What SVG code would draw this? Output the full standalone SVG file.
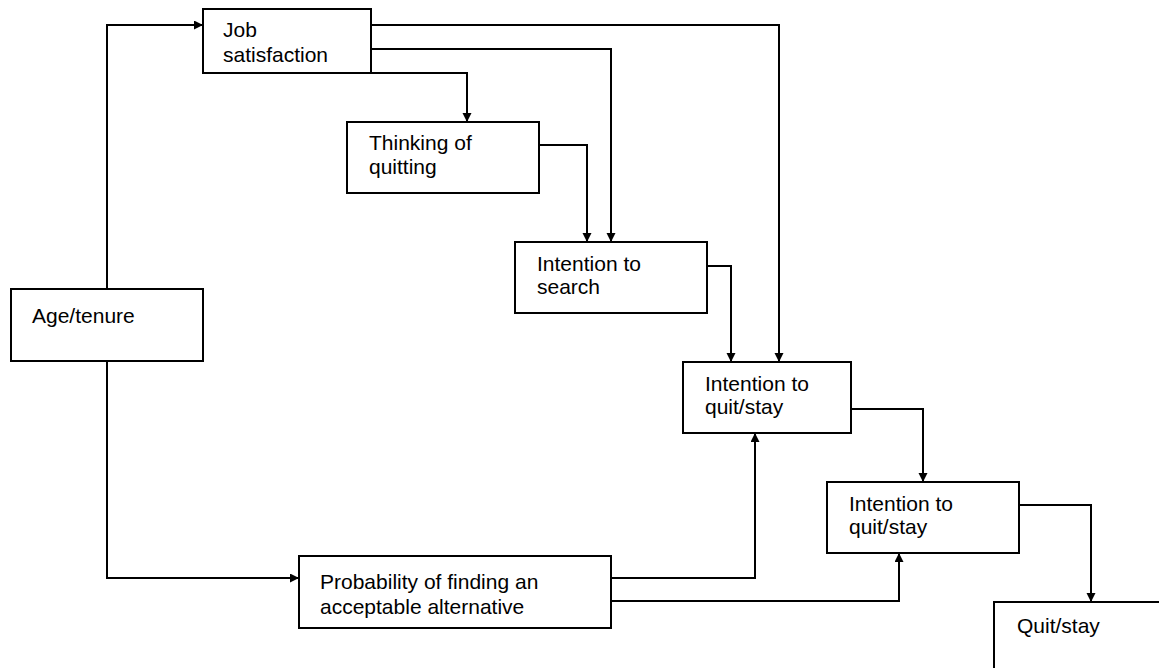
<svg xmlns="http://www.w3.org/2000/svg" width="1159" height="668" viewBox="0 0 1159 668">
<style>
.box{fill:#fff;stroke:#000;stroke-width:2}
.lbl{font-family:"Liberation Sans",Arial,sans-serif;font-size:21px;fill:#000}
.conn{fill:none;stroke:#000;stroke-width:2}
</style>
<defs>
<marker id="arr" markerUnits="userSpaceOnUse" markerWidth="10" markerHeight="10" refX="9" refY="4.5" orient="auto">
<path d="M0,0 L9,4.5 L0,9 z" fill="#000"/>
</marker>
</defs>
<rect width="1159" height="668" fill="#fff"/>
<g id="connectors">
<path class="conn" d="M107,289 V25 H203" marker-end="url(#arr)"/>
<path class="conn" d="M107,361 V578 H299" marker-end="url(#arr)"/>
<path class="conn" d="M371,73 H467 V122" marker-end="url(#arr)"/>
<path class="conn" d="M371,49 H611 V242" marker-end="url(#arr)"/>
<path class="conn" d="M371,25 H779 V362" marker-end="url(#arr)"/>
<path class="conn" d="M539,145 H587 V242" marker-end="url(#arr)"/>
<path class="conn" d="M707,266 H731 V362" marker-end="url(#arr)"/>
<path class="conn" d="M851,409 H923 V482" marker-end="url(#arr)"/>
<path class="conn" d="M1019,505 H1091 V602" marker-end="url(#arr)"/>
<path class="conn" d="M611,578 H755 V433" marker-end="url(#arr)"/>
<path class="conn" d="M611,601 H899 V553" marker-end="url(#arr)"/>
</g>
<g id="job-satisfaction">
<rect class="box" x="203" y="9" width="168" height="64"/>
<text class="lbl" x="223" y="37">Job</text>
<text class="lbl" x="223" y="62">satisfaction</text>
</g>
<g id="thinking-of-quitting">
<rect class="box" x="347" y="122" width="192" height="71"/>
<text class="lbl" x="369" y="150">Thinking of</text>
<text class="lbl" x="369" y="174">quitting</text>
</g>
<g id="intention-to-search">
<rect class="box" x="515" y="242" width="192" height="71"/>
<text class="lbl" x="537" y="271">Intention to</text>
<text class="lbl" x="537" y="294">search</text>
</g>
<g id="age-tenure">
<rect class="box" x="11" y="289" width="192" height="72"/>
<text class="lbl" x="32" y="323">Age/tenure</text>
</g>
<g id="intention-quit-stay-1">
<rect class="box" x="683" y="362" width="168" height="71"/>
<text class="lbl" x="705" y="391">Intention to</text>
<text class="lbl" x="705" y="414">quit/stay</text>
</g>
<g id="intention-quit-stay-2">
<rect class="box" x="827" y="482" width="192" height="71"/>
<text class="lbl" x="849" y="511">Intention to</text>
<text class="lbl" x="849" y="534">quit/stay</text>
</g>
<g id="probability">
<rect class="box" x="299" y="556" width="312" height="72"/>
<text class="lbl" x="320" y="589">Probability of finding an</text>
<text class="lbl" x="320" y="614">acceptable alternative</text>
</g>
<g id="quit-stay">
<rect class="box" x="994" y="602" width="200" height="80"/>
<text class="lbl" x="1017" y="633">Quit/stay</text>
</g>
</svg>
